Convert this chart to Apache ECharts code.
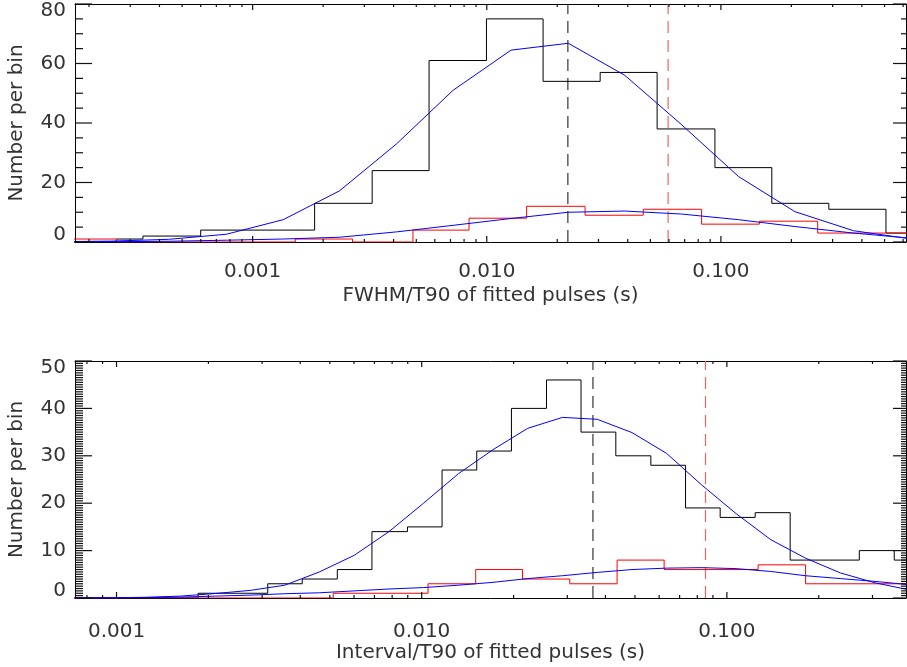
<!DOCTYPE html>
<html>
<head>
<meta charset="utf-8">
<script src="https://cdn.jsdelivr.net/npm/echarts@6/dist/echarts.min.js"></script>
<style>
  html, body { margin: 0; padding: 0; background: #fff; }
  #chart { width: 907px; height: 667px; }
</style>
</head>
<body>
<div id="chart"></div>
<script>
// ---- top panel: FWHM/T90 ----
var fwhmBlackEdges = [0.00015, 0.000262, 0.00034, 0.0006, 0.00184, 0.00324, 0.00567, 0.00997, 0.0174, 0.0305, 0.0534, 0.0943, 0.165, 0.289, 0.507, 0.89];
var fwhmBlackCounts = [0, 1, 2, 4, 13, 24, 61, 75, 54, 57, 38, 25, 13, 11, 3];
var fwhmRedEdges = [0.00015, 0.000262, 0.00152, 0.00267, 0.00484, 0.0084, 0.0148, 0.0263, 0.0466, 0.0827, 0.146, 0.259, 0.456, 0.8];
var fwhmRedCounts = [1, 0, 1, 0, 4, 8, 12, 9, 11, 6, 7, 3, 3];
var fwhmFitX = [0.000142, 0.00025, 0.000438, 0.000772, 0.00135, 0.00235, 0.00412, 0.00718, 0.0127, 0.0223, 0.0389, 0.0678, 0.119, 0.207, 0.368, 0.64];
var fwhmFitAll = [0.1, 0.3, 0.9, 2.6, 7.5, 17.2, 33, 51, 64.5, 66.8, 56, 39.5, 22, 10.2, 3.8, 1.1];
var fwhmFitRed = [0.05, 0.1, 0.25, 0.6, 1.0, 1.6, 3.4, 5.6, 7.9, 10.0, 10.4, 9.4, 7.5, 5.2, 3.0, 1.3];
var fwhmPeaks = [0.0222, 0.0595];   // black, red dashed lines

// ---- bottom panel: Interval/T90 ----
var ivlBlackEdges = [0.0007, 0.00185, 0.00313, 0.00406, 0.00529, 0.00687, 0.00898, 0.01166, 0.01515, 0.01968, 0.02564, 0.03327, 0.04326, 0.05634, 0.0732, 0.09506, 0.1238, 0.1612, 0.2716, 0.3535, 0.46];
var ivlBlackCounts = [0, 1, 3, 4, 6, 14, 15, 27, 31, 40, 46, 35, 30, 28, 19, 17, 18, 8, 10, 8];
var ivlRedEdges = [0.0007, 0.00513, 0.01049, 0.01503, 0.02139, 0.03056, 0.04368, 0.06228, 0.1266, 0.1811, 0.46];
var ivlRedCounts = [0, 1, 3, 6, 4, 3, 8, 6, 7, 3];
var ivlFitX = [0.000739, 0.00096, 0.00125, 0.00162, 0.00211, 0.00274, 0.00356, 0.00462, 0.00601, 0.00781, 0.01014, 0.01318, 0.01713, 0.02226, 0.02893, 0.0376, 0.04886, 0.06348, 0.0825, 0.1072, 0.1393, 0.181, 0.2352, 0.3057, 0.3972];
var ivlFitAll = [0, 0.05, 0.15, 0.4, 0.95, 1.6, 2.7, 5.5, 9.0, 14.0, 20.0, 26.2, 31.3, 35.8, 38.1, 37.7, 34.9, 30.5, 23.9, 17.8, 12.3, 8.4, 5.3, 3.2, 1.7];
var ivlFitRed = [0, 0.05, 0.1, 0.2, 0.4, 0.6, 0.9, 1.1, 1.5, 1.9, 2.2, 2.7, 3.3, 4.1, 4.7, 5.4, 6.0, 6.3, 6.4, 6.2, 5.6, 4.7, 4.1, 3.5, 2.8];
var ivlPeaks = [0.0364, 0.0851];

var xMajor = [0.001, 0.01, 0.1];
var xRange = [[0.0001743, 0.6174], [0.000731, 0.3863]];
var yRange = [[0, 80, 20, 4], [0, 50, 10, 20]];   // min, max, step, minor splits
var xNames = ['FWHM/T90 of fitted pulses (s)', 'Interval/T90 of fitted pulses (s)'];

var FONT = 'DejaVu Sans';
var TXT = '#333';
var GRID = [{ top: 4, h: 238 }, { top: 361, h: 237 }];
var LEFT = 75, W = 831;

var xMinor = [];
[0.0001, 0.001, 0.01, 0.1].forEach(function (d) {
  for (var k = 2; k <= 9; k++) xMinor.push(+(d * k).toPrecision(3));
});

function steps(edges, counts) {
  var d = [];
  for (var i = 0; i < counts.length; i++) d.push([edges[i], counts[i]]);
  d.push([edges[counts.length], counts[counts.length - 1]]);
  return d;
}
function pairs(xs, ys) {
  return xs.map(function (x, i) { return [x, ys[i]]; });
}
function inRange(vals, r) {
  return vals.filter(function (v) { return v >= r[0] && v <= r[1]; });
}
function yTicks(g, minor) {
  var y = yRange[g], st = y[2] / (minor ? y[3] : 1), out = [];
  for (var v = y[0]; v <= y[1] + 1e-9; v += st) {
    var isMajor = Math.abs(v / y[2] - Math.round(v / y[2])) < 1e-6;
    if (minor !== isMajor) out.push(+v.toFixed(4));
  }
  return out;
}

var xAxes = [], yAxes = [];
[0, 1].forEach(function (g) {
  var r = xRange[g], y = yRange[g];
  xAxes.push({
    type: 'log', logBase: 10, gridIndex: g, position: 'bottom', min: r[0], max: r[1],
    axisLine: { show: true, onZero: false, lineStyle: { color: '#000', width: 1 } },
    axisTick: { show: false },
    axisLabel: {
      show: true, customValues: inRange(xMajor, r), margin: g === 0 ? 20 : 24,
      fontFamily: FONT, fontSize: 20, color: TXT,
      formatter: function (v) { return (+v).toFixed(3); }
    },
    splitLine: { show: false },
    name: xNames[g], nameLocation: 'middle', nameGap: g === 0 ? 44 : 38,
    nameTextStyle: { fontFamily: FONT, fontSize: 20, color: TXT }
  });
  xAxes.push({
    type: 'log', logBase: 10, gridIndex: g, position: 'top', min: r[0], max: r[1],
    axisLine: { show: true, onZero: false, lineStyle: { color: '#000', width: 1 } },
    axisTick: { show: false }, axisLabel: { show: false }, splitLine: { show: false }
  });
  yAxes.push({
    type: 'value', gridIndex: g, position: 'left', min: y[0], max: y[1], interval: y[2],
    axisLine: { show: true, onZero: false, lineStyle: { color: '#000' } },
    axisTick: { show: false },
    axisLabel: {
      margin: 9, fontFamily: FONT, fontSize: 20, lineHeight: 14, color: TXT,
      verticalAlignMinLabel: 'bottom', verticalAlignMaxLabel: 'top'
    },
    splitLine: { show: false },
    name: 'Number per bin', nameLocation: 'middle', nameGap: 48,
    nameTextStyle: { fontFamily: FONT, fontSize: 20, color: TXT }
  });
  yAxes.push({
    type: 'value', gridIndex: g, position: 'right', min: y[0], max: y[1], interval: y[2],
    axisLine: { show: true, onZero: false, lineStyle: { color: '#000' } },
    axisTick: { show: false }, axisLabel: { show: false }, splitLine: { show: false }
  });
});

function stepSeries(g, data, color) {
  return {
    type: 'line', xAxisIndex: g * 2, yAxisIndex: g * 2, step: 'end', data: data,
    showSymbol: false, clip: true, lineStyle: { color: color, width: 1 }
  };
}
function fitSeries(g, data) {
  return {
    type: 'line', xAxisIndex: g * 2, yAxisIndex: g * 2, data: data,
    showSymbol: false, clip: true, lineStyle: { color: '#0000ff', width: 1 }
  };
}
function peakSeries(g, x, color) {
  return {
    type: 'line', xAxisIndex: g * 2, yAxisIndex: g * 2,
    data: [[x, yRange[g][0]], [x, yRange[g][1]]],
    showSymbol: false, clip: true,
    lineStyle: { color: color, width: 1.2, type: [12, 7] }
  };
}
// inward tick marks (IDL style): thin rect symbols pinned to the frame
function tickSeries(g, data, dx, dy) {
  return {
    type: 'scatter', xAxisIndex: g * 2, yAxisIndex: g * 2, data: data,
    symbol: 'rect', symbolSize: [Math.max(Math.abs(dx), 1.2), Math.max(Math.abs(dy), 1.2)],
    symbolOffset: [dx / 2, dy / 2], clip: false, silent: true, z: 5,
    itemStyle: { color: '#111', opacity: 1 }
  };
}
function frameTicks(g) {
  var r = xRange[g], y = yRange[g], s = [];
  var yMaj = yTicks(g, false), yMin = yTicks(g, true);
  var xMaj = inRange(xMajor, r), xMin = inRange(xMinor, r);
  s.push(tickSeries(g, yMaj.map(function (v) { return [r[0], v]; }), 17, 0));
  s.push(tickSeries(g, yMin.map(function (v) { return [r[0], v]; }), 8, 0));
  s.push(tickSeries(g, yMaj.map(function (v) { return [r[1], v]; }), -13, 0));
  s.push(tickSeries(g, yMin.map(function (v) { return [r[1], v]; }), -5, 0));
  s.push(tickSeries(g, xMaj.map(function (v) { return [v, y[0]]; }), 0, -6));
  s.push(tickSeries(g, xMin.map(function (v) { return [v, y[0]]; }), 0, -3));
  s.push(tickSeries(g, xMaj.map(function (v) { return [v, y[1]]; }), 0, 6));
  s.push(tickSeries(g, xMin.map(function (v) { return [v, y[1]]; }), 0, 3));
  return s;
}

var option = {
  animation: false,
  backgroundColor: '#fff',
  grid: GRID.map(function (gr) {
    return { left: LEFT, width: W, top: gr.top, height: gr.h, show: false, outerBoundsMode: 'none', containLabel: false };
  }),
  xAxis: xAxes,
  yAxis: yAxes,
  series: [
    peakSeries(0, fwhmPeaks[0], '#333'),
    peakSeries(0, fwhmPeaks[1], '#f26262'),
    stepSeries(0, steps(fwhmBlackEdges, fwhmBlackCounts), '#000'),
    stepSeries(0, steps(fwhmRedEdges, fwhmRedCounts), '#ff0000'),
    fitSeries(0, pairs(fwhmFitX, fwhmFitAll)),
    fitSeries(0, pairs(fwhmFitX, fwhmFitRed)),
    peakSeries(1, ivlPeaks[0], '#333'),
    peakSeries(1, ivlPeaks[1], '#f26262'),
    stepSeries(1, steps(ivlBlackEdges, ivlBlackCounts), '#000'),
    stepSeries(1, steps(ivlRedEdges, ivlRedCounts), '#ff0000'),
    fitSeries(1, pairs(ivlFitX, ivlFitAll)),
    fitSeries(1, pairs(ivlFitX, ivlFitRed))
  ].concat(frameTicks(0), frameTicks(1))
};

var chart = echarts.init(document.getElementById('chart'));
chart.setOption(option);
</script>
</body>
</html>
